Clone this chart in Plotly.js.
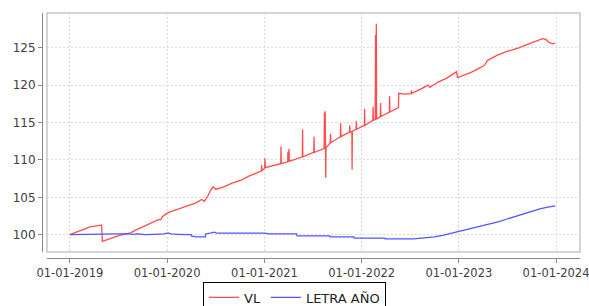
<!DOCTYPE html>
<html>
<head>
<meta charset="utf-8">
<script src="https://cdn.plot.ly/plotly-3.0.1.min.js"></script>
<style>html,body{margin:0;padding:0;background:#fff;}#chart{width:589px;height:306px;}</style>
</head>
<body>
<div id="chart"></div>
<script>
// Series names
var seriesNames = ['VL', 'LETRA AÑO'];

// VL (red) series
var vlDates = ['2019-01-01','2019-01-15','2019-02-01','2019-02-15','2019-03-01','2019-03-17','2019-04-01','2019-04-15','2019-04-30','2019-05-03',
'2019-05-15','2019-06-01','2019-07-01','2019-08-01','2019-08-17','2019-09-01','2019-10-01','2019-11-01','2019-12-01','2019-12-08',
'2019-12-15','2020-01-01','2020-01-12','2020-02-01','2020-03-01','2020-04-01','2020-04-15','2020-05-10','2020-05-20','2020-06-01',
'2020-06-12','2020-06-22','2020-07-02','2020-08-01','2020-09-01','2020-10-06','2020-11-07','2020-12-07','2020-12-20','2020-12-21',
'2020-12-22','2021-01-01','2021-01-03','2021-01-04','2021-02-01','2021-03-03','2021-03-04','2021-03-05','2021-03-29','2021-03-30',
'2021-04-01','2021-04-03','2021-04-04','2021-05-01','2021-05-23','2021-05-24','2021-05-25','2021-07-05','2021-07-06','2021-07-07',
'2021-08-13','2021-08-14','2021-08-15','2021-08-17','2021-08-18','2021-08-19','2021-08-20','2021-09-05','2021-09-06','2021-09-07',
'2021-10-13','2021-10-14','2021-10-15','2021-11-16','2021-11-17','2021-11-18','2021-11-25','2021-11-26','2021-11-27','2021-12-11',
'2021-12-12','2021-12-13','2022-01-01','2022-01-11','2022-01-12','2022-01-13','2022-02-12','2022-02-13','2022-02-14','2022-02-21',
'2022-02-22','2022-02-23','2022-02-25','2022-02-26','2022-03-12','2022-03-13','2022-03-14','2022-04-15','2022-04-16','2022-04-17',
'2022-05-19','2022-05-20','2022-06-10','2022-07-06','2022-07-07','2022-07-08','2022-08-01','2022-09-08','2022-09-14','2022-10-15',
'2022-11-15','2022-12-04','2022-12-23','2022-12-27','2023-01-20','2023-02-16','2023-03-15','2023-04-06','2023-04-19','2023-05-26',
'2023-07-01','2023-08-09','2023-09-28','2023-11-11','2023-11-24','2023-12-06','2023-12-19','2023-12-29'];
var vlValues = [100.0,100.25,100.45,100.6,100.8,101.05,101.1,101.2,101.3,99.1,
99.25,99.45,99.85,100.1,100.25,100.55,101.05,101.6,102.05,102.0,
102.45,102.85,103.05,103.3,103.7,104.05,104.2,104.7,104.45,105.1,
105.9,106.4,106.05,106.4,106.9,107.3,107.9,108.3,108.5,109.3,
108.55,108.9,110.2,108.95,109.2,109.5,111.8,109.5,109.75,111.1,
109.8,111.5,109.8,110.15,110.4,114.05,110.4,111.0,113.1,111.0,
111.5,116.3,111.5,116.5,111.6,107.6,111.6,112.3,113.5,112.3,
113.1,114.9,113.1,113.7,114.6,113.7,113.8,108.7,113.8,114.1,
115.2,114.1,114.45,114.6,116.8,114.6,115.3,117.1,115.3,115.4,
126.7,115.4,128.2,115.45,115.8,117.6,115.8,116.4,118.5,116.4,
117.0,118.9,118.8,118.85,119.3,118.9,119.3,120.0,119.7,120.4,
120.9,121.3,121.8,121.0,121.3,121.7,122.2,122.6,123.3,124.0,
124.5,124.9,125.6,126.2,126.1,125.7,125.5,125.6];

// LETRA AÑO (blue) series
var letraDates = ['2019-01-01','2019-06-15','2019-07-01','2019-08-10','2019-08-20','2019-09-15','2019-10-10','2019-11-10','2019-12-20','2020-01-05',
'2020-01-15','2020-02-15','2020-03-31','2020-04-01','2020-04-20','2020-05-24','2020-05-25','2020-06-28','2020-07-05','2021-01-01',
'2021-01-15','2021-05-02','2021-05-03','2021-09-03','2021-09-04','2021-12-03','2021-12-04','2022-03-29','2022-03-30','2022-07-15',
'2022-08-27','2022-10-01','2022-11-01','2022-12-01','2023-01-01','2023-02-01','2023-03-01','2023-04-01','2023-05-01','2023-06-01',
'2023-07-01','2023-08-01','2023-09-01','2023-10-01','2023-11-01','2023-12-01','2023-12-29'];
var letraValues = [100.0,100.0,100.1,100.15,100.05,100.1,100.0,100.05,100.1,100.25,
100.1,100.05,100.0,99.85,99.7,99.7,100.1,100.35,100.2,100.2,
100.1,100.1,99.85,99.85,99.7,99.7,99.55,99.55,99.45,99.45,
99.55,99.7,99.9,100.15,100.4,100.65,100.9,101.15,101.45,101.75,
102.1,102.45,102.8,103.1,103.45,103.7,103.85];

var traces = [
  {x: vlDates, y: vlValues, name: seriesNames[0], type: 'scatter', mode: 'lines',
   line: {color: 'rgb(255,77,77)', width: 1.3}},
  {x: letraDates, y: letraValues, name: seriesNames[1], type: 'scatter', mode: 'lines',
   line: {color: 'rgb(85,85,255)', width: 1.3}}
];

var tickFont = {family: 'DejaVu Sans', size: 12, color: '#404040'};
var layout = {
  width: 589, height: 306,
  margin: {l: 42, r: 9, t: 13, b: 48, pad: 0},
  paper_bgcolor: '#fff', plot_bgcolor: '#fff',
  showlegend: true,
  xaxis: {
    type: 'date', domain: [0.0093, 1], anchor: 'free', position: 0,
    range: ['2018-10-07', '2024-03-31'],
    tick0: '2019-01-01', dtick: 'M12', tickformat: '%d-%m-%Y',
    showgrid: true, gridcolor: '#d9d9d9', griddash: '2px,2px', gridwidth: 1,
    showline: true, linecolor: '#8a8a8a', linewidth: 1.2,
    ticks: 'outside', ticklen: 4, tickcolor: '#8a8a8a',
    tickfont: {family: 'DejaVu Sans', size: 11.5, color: '#404040'},
    zeroline: false, ticklabeloverflow: 'allow'
  },
  yaxis: {
    domain: [0.0245, 1], anchor: 'free', position: 0,
    range: [97.69, 129.63], dtick: 5, tick0: 100,
    showgrid: true, gridcolor: '#d9d9d9', griddash: '2px,2px', gridwidth: 1,
    showline: true, linecolor: '#8a8a8a', linewidth: 1.2,
    ticks: 'outside', ticklen: 4, tickcolor: '#8a8a8a',
    tickfont: tickFont, zeroline: false
  },
  shapes: [{type: 'rect', xref: 'x domain', yref: 'y domain', x0: 0, x1: 1, y0: 0, y1: 1,
            line: {color: 'rgb(200,200,200)', width: 1.5}, fillcolor: 'rgba(0,0,0,0)', layer: 'above'}],
  legend: {
    orientation: 'h', xref: 'container', yref: 'container',
    x: 0.5, xanchor: 'center', y: 0.08, yanchor: 'top',
    bordercolor: '#000', borderwidth: 1, bgcolor: '#fff',
    font: {family: 'DejaVu Sans', size: 13, color: '#222'},
    itemwidth: 30, tracegroupgap: 0
  }
};

Plotly.newPlot('chart', traces, layout, {staticPlot: true, displayModeBar: false});
</script>
</body>
</html>
